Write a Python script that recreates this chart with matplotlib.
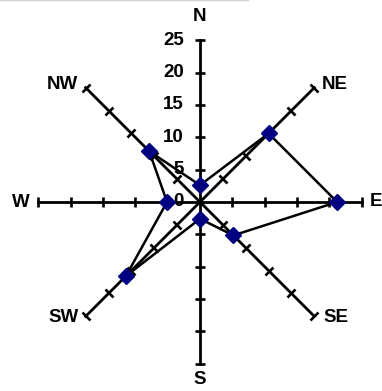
import numpy as np
import matplotlib
matplotlib.use('Agg')
import matplotlib.pyplot as plt
from matplotlib.markers import MarkerStyle
from matplotlib.transforms import Affine2D
from matplotlib.lines import Line2D

# wind directions and values
directions = ['N', 'NE', 'E', 'SE', 'S', 'SW', 'W', 'NW']
values = [2.6, 15.0, 21.2, 7.3, 2.6, 16.2, 5.1, 11.1]
ring_ticks = [0, 5, 10, 15, 20, 25]
rmax = 25

plt.rcParams['font.family'] = ['Liberation Sans', 'DejaVu Sans']
plt.rcParams['font.weight'] = 'bold'

fig = plt.figure(figsize=(3.82, 3.91), dpi=100)
# centre of the radar at (200, 202) px, radius ~162 px
cx, cy, rad = 200 / 382, (391 - 202) / 391, 161.7
ax = fig.add_axes([cx - rad / 382, cy - rad / 391, 2 * rad / 382, 2 * rad / 391],
                  projection='polar')
ax.set_theta_zero_location('N')
ax.set_theta_direction(-1)
ax.set_ylim(0, rmax)
ax.grid(False)
ax.set_xticks([])
ax.set_yticks([])
ax.spines['polar'].set_visible(False)
ax.patch.set_visible(False)

angles_deg = np.arange(0, 360, 45)
angles = np.deg2rad(angles_deg)

# spokes with perpendicular tick marks
for a, d in zip(angles, angles_deg):
    ax.plot([a, a], [0, rmax], color='black', lw=2.0, clip_on=False, zorder=2)
    tick = MarkerStyle('_', transform=Affine2D().rotate_deg(-d))
    ax.plot([a] * 5, ring_ticks[1:], linestyle='none', marker=tick,
            markersize=7.6, markeredgewidth=1.9, color='black',
            clip_on=False, zorder=2)

# value labels along the N spoke
for r in ring_ticks:
    ax.annotate(str(r), xy=(0, r), xytext=(-16, 0), textcoords='offset pixels',
                ha='right', va='center', fontsize=13.5, fontweight='bold',
                annotation_clip=False)

# direction labels
label_pos = {
    'N': ((0, 24), 'center', 'center'),
    'NE': ((7, 3), 'left', 'center'),
    'E': ((8, 0), 'left', 'center'),
    'SE': ((9, -1), 'left', 'center'),
    'S': ((0, -16), 'center', 'center'),
    'SW': ((-7, -1), 'right', 'center'),
    'W': ((-9, 0), 'right', 'center'),
    'NW': ((-8, 3), 'right', 'center'),
}
for a, name in zip(angles, directions):
    off, ha, va = label_pos[name]
    ax.annotate(name, xy=(a, rmax), xytext=off, textcoords='offset pixels',
                ha=ha, va=va, fontsize=13.5, fontweight='bold',
                annotation_clip=False)

# data series
theta = np.append(angles, angles[0])
vals = values + values[:1]
ax.plot(theta, vals, color='black', lw=1.8, zorder=3, clip_on=False)
ax.plot(angles, values, linestyle='none', marker='D', markersize=8,
        color='#000080', markeredgecolor='#000080', zorder=4, clip_on=False)

# faint chart border at the top edge
fig.add_artist(Line2D([0, 0.65], [0.999, 0.999], color='#d0d0d0', lw=1,
                      transform=fig.transFigure))

fig.savefig('out.png', dpi=100)
